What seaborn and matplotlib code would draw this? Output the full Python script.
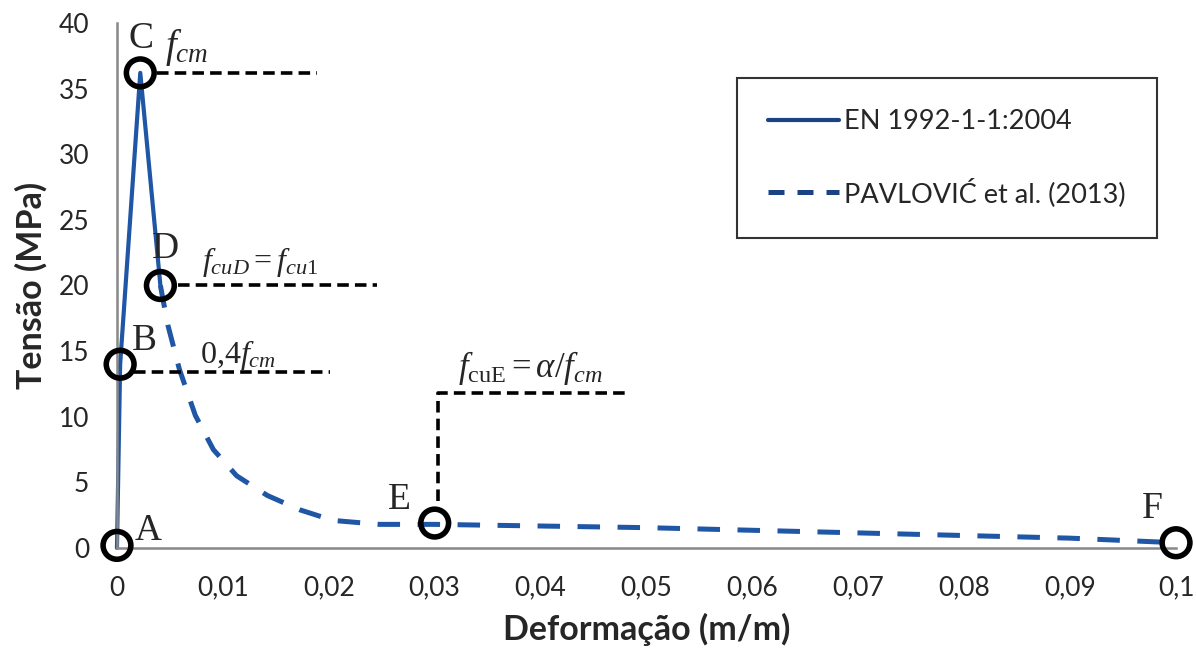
import numpy as np
import pandas as pd
import seaborn as sns
import matplotlib.pyplot as plt

# EN 1992-1-1:2004 curve (A -> B -> C -> D)
en_strain = [0, 0.0003, 0.0022, 0.0041]
en_stress = [0, 14.0, 36.2, 20.0]

# PAVLOVIC et al. (2013) softening branch (D -> E -> F)
pav_strain = [0.0041, 0.0048, 0.0059, 0.0074, 0.0091, 0.0113, 0.0142, 0.0173,
              0.0204, 0.0248, 0.0300, 0.0500, 0.0700, 0.0900, 0.1000]
pav_stress = [20.0, 17.0, 13.6, 10.1, 7.5, 5.5, 4.0, 2.9,
              2.1, 1.8, 1.8, 1.55, 1.15, 0.75, 0.4]

# key points
pt_names = ['A', 'B', 'C', 'D', 'E', 'F']
pt_strain = [0, 0.0003, 0.0022, 0.0041, 0.0300, 0.1000]
pt_stress = [0.2, 14.0, 36.2, 20.0, 1.9, 0.4]

x_ticks = [0, 0.01, 0.02, 0.03, 0.04, 0.05, 0.06, 0.07, 0.08, 0.09, 0.1]
x_labels = ['0', '0,01', '0,02', '0,03', '0,04', '0,05', '0,06', '0,07', '0,08', '0,09', '0,1']
y_ticks = [0, 5, 10, 15, 20, 25, 30, 35, 40]

blue = '#1f56a5'
navy = '#1b4384'

sns.set_style('white')
plt.rcParams['font.family'] = ['Lato', 'DejaVu Sans']
plt.rcParams['mathtext.fontset'] = 'custom'
plt.rcParams['mathtext.rm'] = 'Liberation Serif'
plt.rcParams['mathtext.it'] = 'Liberation Serif:italic'

fig = plt.figure(figsize=(11.96, 6.53), dpi=100)
ax = fig.add_axes([0.0978, 0.1608, 0.8855, 0.8040])

sns.lineplot(x=en_strain, y=en_stress, sort=False, color=blue, lw=3,
             label='EN 1992-1-1:2004', ax=ax)
sns.lineplot(x=pav_strain, y=pav_stress, sort=False, color=blue, lw=3.6,
             label='PAVLOVIĆ et al. (2013)', ax=ax)
ax.lines[1].set_dashes([4.5, 3.5])

# reference dashed lines
ref = dict(color='black', lw=2.6, ls=(0, (3.2, 1.7)))
ax.plot([0.0038, 0.0189], [36.2, 36.2], **ref)
ax.plot([0.0058, 0.0246], [20.0, 20.0], **ref)
ax.plot([0.0016, 0.0201], [13.4, 13.4], **ref)
ax.plot([0.0303, 0.0303, 0.0483], [3.6, 11.8, 11.8], **ref)

sns.scatterplot(x=pt_strain, y=pt_stress, marker='o', s=400, facecolor='none',
                edgecolor='black', linewidth=4, zorder=5, ax=ax, legend=False)

serif = 'Liberation Serif'
lbl_pos = {'A': (0.0029, 1.3), 'B': (0.0026, 15.8), 'C': (0.0023, 38.8),
           'D': (0.0046, 22.8), 'E': (0.0267, 3.7), 'F': (0.0978, 3.0)}
for n in pt_names:
    ax.text(*lbl_pos[n], n, family=serif, fontsize=27, ha='center', va='center')

ax.text(0.0066, 38.1, r'$f_{cm}$', fontsize=28, ha='center', va='center')
ax.text(0.0080, 21.8, r'$f_{cuD} = f_{cu1}$', fontsize=23, ha='left', va='center')
ax.text(0.0078, 14.7, r'$0{,}4f_{cm}$', fontsize=23, ha='left', va='center')
ax.text(0.0322, 13.7, r'$f_{\mathrm{cuE}} = \alpha/f_{cm}$', fontsize=25, ha='left', va='center')

ax.set_xlim(0, 0.1)
ax.set_ylim(0, 40)
ax.set_xticks(x_ticks)
ax.set_xticklabels(x_labels)
ax.set_yticks(y_ticks)
for ln in ax.lines:
    ln.set_clip_on(False)
for c in ax.collections:
    c.set_clip_on(False)

ax.tick_params(axis='both', direction='in', length=6, width=1.2, color='#777777',
               labelsize=19, pad=20)
for s in ['top', 'right']:
    ax.spines[s].set_visible(False)
for s in ['left', 'bottom']:
    ax.spines[s].set_color('#888888')
    ax.spines[s].set_linewidth(1.8)

ax.set_xlabel('Deformação (m/m)', fontsize=24.5, fontweight='bold', labelpad=9)
ax.set_ylabel('Tensão (MPa)', fontsize=24.5, fontweight='bold', labelpad=8)

leg = ax.legend(loc='upper left', bbox_to_anchor=(0.5855, 0.895), fontsize=19.5,
                frameon=True, fancybox=False, edgecolor='black', handlelength=2.6,
                handletextpad=0.2, labelspacing=1.6, borderpad=1.15, borderaxespad=0)
leg.get_frame().set_linewidth(1.5)
for h in leg.get_lines():
    h.set_color(navy)
leg.get_lines()[1].set_dashes([3.2, 2.6])

fig.savefig('out.png', dpi=100)
